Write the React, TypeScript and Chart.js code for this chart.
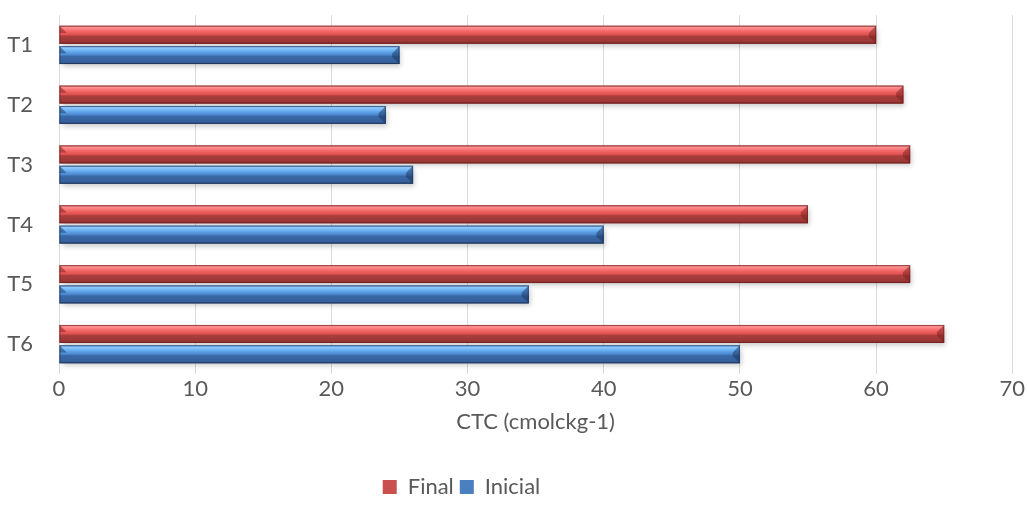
import React, { useEffect, useRef } from "react";
import { Chart, registerables } from "chart.js";

Chart.register(...registerables);

const categories = ["T1", "T2", "T3", "T4", "T5", "T6"];
const finalValues = [60, 62, 62.5, 55, 62.5, 65];
const inicialValues = [25, 24, 26, 40, 34.5, 50];
const xTicks = [0, 10, 20, 30, 40, 50, 60, 70];

const RED_STOPS: [number, string][] = [
  [0, "#d07070"],
  [0.1, "#ff9090"],
  [0.3, "#f46868"],
  [0.5, "#de5050"],
  [0.58, "#a83e3c"],
  [0.9, "#9b3735"],
  [1, "#6e2423"],
];
const BLUE_STOPS: [number, string][] = [
  [0, "#6a98cf"],
  [0.1, "#8fcaff"],
  [0.3, "#64aaee"],
  [0.5, "#4a86cc"],
  [0.58, "#3a67a6"],
  [0.9, "#35609b"],
  [1, "#243f66"],
];

const FONT = { family: "Lato", size: 22 };
const TEXT = "#595959";

const legendShiftPlugin = {
  id: "legendShift",
  beforeDraw(chart: any) {
    const lg = chart.legend;
    if (lg && !lg._shifted) {
      lg.left -= 46;
      lg.right -= 46;
      lg._shifted = true;
    }
  },
  afterUpdate(chart: any) {
    if (chart.legend) chart.legend._shifted = false;
  },
};

const bevelPlugin = {
  id: "bevel",
  beforeDatasetsDraw(chart: any) {
    const ctx = chart.ctx;
    ctx.save();
    chart.data.datasets.forEach((_: any, di: number) => {
      const meta = chart.getDatasetMeta(di);
      meta.data.forEach((el: any) => {
        const h = el.height;
        const top = el.y - h / 2;
        const left = Math.min(el.x, el.base);
        const w = Math.abs(el.x - el.base);
        ctx.shadowColor = "rgba(0,0,0,0.35)";
        ctx.shadowBlur = 5;
        ctx.shadowOffsetX = 2;
        ctx.shadowOffsetY = 3;
        ctx.fillStyle = "rgba(120,120,120,0.6)";
        ctx.fillRect(left, top, w, h);
      });
    });
    ctx.restore();
  },
  afterDatasetsDraw(chart: any) {
    const ctx = chart.ctx;
    ctx.save();
    chart.data.datasets.forEach((_: any, di: number) => {
      const meta = chart.getDatasetMeta(di);
      const stops = di === 0 ? RED_STOPS : BLUE_STOPS;
      meta.data.forEach((el: any) => {
        const h = el.height;
        const top = el.y - h / 2;
        const left = Math.min(el.x, el.base);
        const right = Math.max(el.x, el.base);
        const w = right - left;
        const g = ctx.createLinearGradient(0, top, 0, top + h);
        stops.forEach(([o, c]) => g.addColorStop(o, c));
        ctx.fillStyle = g;
        ctx.fillRect(left, top, w, h);
        const b = h * 0.4;
        ctx.fillStyle = di === 0 ? "rgba(120,30,30,0.5)" : "rgba(25,50,90,0.5)";
        ctx.beginPath();
        ctx.moveTo(right - b, top + b);
        ctx.lineTo(right, top);
        ctx.lineTo(right, top + h);
        ctx.lineTo(right - b, top + h - b);
        ctx.closePath();
        ctx.fill();
        ctx.beginPath();
        ctx.moveTo(left, top);
        ctx.lineTo(left + b, top + b);
        ctx.lineTo(left, top + b);
        ctx.closePath();
        ctx.fill();
        ctx.strokeStyle = di === 0 ? "rgba(110,30,30,0.55)" : "rgba(25,45,80,0.55)";
        ctx.lineWidth = 1;
        ctx.strokeRect(left + 0.5, top + 0.5, w - 1, h - 1);
      });
    });
    ctx.restore();
  },
};

export default function App() {
  const ref = useRef<HTMLCanvasElement | null>(null);

  useEffect(() => {
    document.body.style.margin = "0";
    const canvas = ref.current!;
    const chart = new Chart(canvas, {
      type: "bar",
      data: {
        labels: categories,
        datasets: [
          { label: "Final", data: finalValues, backgroundColor: "#c9504d", borderWidth: 0 },
          { label: "Inicial", data: inicialValues, backgroundColor: "#4a7fc0", borderWidth: 0 },
        ],
      },
      options: {
        indexAxis: "y",
        responsive: false,
        animation: false,
        maintainAspectRatio: false,
        layout: { padding: { left: 0, right: 12, top: 15, bottom: 15 } },
        scales: {
          x: {
            min: 0,
            max: 70,
            afterBuildTicks: (axis: any) => {
              axis.ticks = xTicks.map((v) => ({ value: v }));
            },
            afterFit: (axis: any) => {
              axis.height = 96;
            },
            grid: { color: "#d9d9d9", drawTicks: false, lineWidth: 1 },
            border: { display: false },
            ticks: { color: TEXT, font: FONT, padding: 2, maxRotation: 0 },
            title: {
              display: true,
              text: "CTC (cmolckg-1)",
              color: TEXT,
              font: FONT,
              padding: { top: 10, bottom: 35 },
            },
          },
          y: {
            afterFit: (axis: any) => {
              axis.width = 59;
              axis.paddingTop = 0;
              axis.paddingBottom = 0;
            },
            grid: { display: false, drawTicks: false },
            border: { display: false },
            ticks: { color: TEXT, font: FONT, padding: 26 },
          },
        },
        datasets: {
          bar: { categoryPercentage: 0.68, barPercentage: 0.88 },
        },
        plugins: {
          legend: {
            position: "bottom",
            labels: {
              color: TEXT,
              font: FONT,
              boxWidth: 14,
              boxHeight: 14,
              padding: 6,
            },
          },
          tooltip: { enabled: false },
        },
      } as any,
      plugins: [bevelPlugin, legendShiftPlugin],
    });
    return () => chart.destroy();
  }, []);

  return (
    <div style={{ width: 1027, height: 523, background: "#fff" }}>
      <canvas ref={ref} width={1027} height={523} style={{ display: "block" }} />
    </div>
  );
}
